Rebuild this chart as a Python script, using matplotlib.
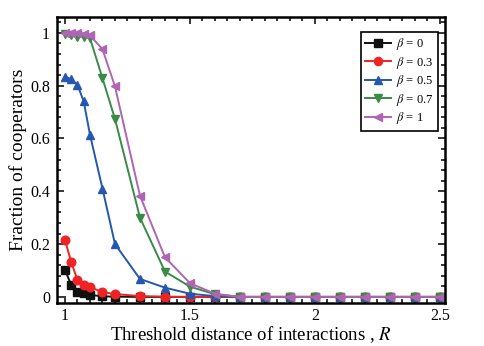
import matplotlib
matplotlib.use("Agg")
import matplotlib.pyplot as plt
from matplotlib.ticker import MultipleLocator, FuncFormatter

plt.rcParams['font.family'] = ['Liberation Serif', 'DejaVu Serif']
plt.rcParams['mathtext.fontset'] = 'stix'

R = [1.0, 1.025, 1.05, 1.075, 1.1, 1.15, 1.2, 1.3, 1.4, 1.5, 1.6, 1.7, 1.8, 1.9, 2.0, 2.1, 2.2, 2.3, 2.4, 2.5]

beta0 = [0.102, 0.045, 0.02, 0.014, 0.008, 0.002, 0.001, 0, 0, 0, 0, 0, 0, 0, 0, 0, 0, 0, 0, 0]
beta03 = [0.216, 0.131, 0.064, 0.045, 0.037, 0.018, 0.011, 0.003, 0.001, 0, 0, 0, 0, 0, 0, 0, 0, 0, 0, 0]
beta05 = [0.834, 0.824, 0.803, 0.74, 0.614, 0.41, 0.20, 0.068, 0.035, 0.012, 0.003, 0, 0, 0, 0, 0, 0, 0, 0, 0]
beta07 = [0.995, 0.99, 0.985, 0.985, 0.98, 0.828, 0.674, 0.30, 0.096, 0.039, 0.01, 0, 0, 0, 0, 0, 0, 0, 0, 0]
beta1 = [1.0, 1.0, 1.0, 0.997, 0.99, 0.938, 0.797, 0.383, 0.15, 0.052, 0.012, 0, 0, 0, 0, 0, 0, 0, 0, 0]

labels = [r'$\beta$ = 0', r'$\beta$ = 0.3', r'$\beta$ = 0.5', r'$\beta$ = 0.7', r'$\beta$ = 1']
series = [beta0, beta03, beta05, beta07, beta1]
colors = ['#111111', '#ee2424', '#2457b0', '#3a8a48', '#b064b4']
markers = ['s', 'o', '^', 'v', '<']

fig = plt.figure(figsize=(4.85, 3.46), dpi=100)
ax = fig.add_axes([0.1175, 0.1243, 0.80, 0.8266])

for ys, lab, c, m in zip(series, labels, colors, markers):
    ax.plot(R, ys, color=c, marker=m, markersize=6.2, linewidth=1.4, label=lab)

ax.set_xlim(0.968, 2.52)
ax.set_ylim(-0.023, 1.06)
ax.xaxis.set_major_locator(MultipleLocator(0.5))
ax.xaxis.set_minor_locator(MultipleLocator(0.05))
ax.yaxis.set_major_locator(MultipleLocator(0.2))
ax.yaxis.set_minor_locator(MultipleLocator(0.04))
fmt = FuncFormatter(lambda v, p: ('%g' % round(v, 3)))
ax.xaxis.set_major_formatter(fmt)
ax.yaxis.set_major_formatter(fmt)
ax.tick_params(which='both', direction='in', top=True, right=True, labelsize=11.5, width=1.1)
ax.tick_params(which='major', length=5, pad=5)
ax.tick_params(axis='x', which='major', pad=3.5)
ax.tick_params(which='minor', length=3)
for s in ax.spines.values():
    s.set_linewidth(1.8)

ax.set_xlabel('Threshold distance of interactions , $\\mathit{R}$', fontsize=13.5, labelpad=0)
ax.set_ylabel('Fraction of cooperators', fontsize=14, labelpad=2)

leg = ax.legend(loc='upper right', bbox_to_anchor=(0.982, 0.948), fontsize=9, fancybox=False,
                edgecolor='black', framealpha=1, handlelength=2.1, borderpad=0.35,
                labelspacing=0.2, handletextpad=0.4, markerscale=0.95, borderaxespad=0)
leg.get_frame().set_linewidth(1.2)

fig.savefig('out.png', dpi=100)
